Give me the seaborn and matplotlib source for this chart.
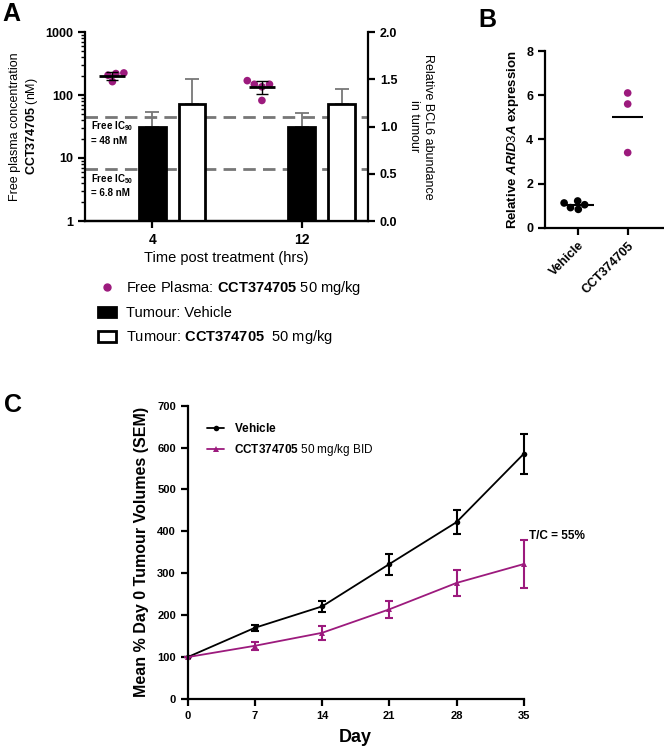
import matplotlib
matplotlib.use("Agg")
import matplotlib.pyplot as plt
import numpy as np
import pandas as pd
import seaborn as sns
from matplotlib.lines import Line2D
from matplotlib.patches import Patch

MAGENTA = "#9c1a7d"
GREY = "#777777"

# Panel A: free plasma concentration (nM) and BCL6 abundance in tumour
a_times = ["4", "12"]
a_groups = ["Free Plasma", "Tumour: Vehicle", "Tumour: CCT374705"]
plasma_4h = [224, 219, 206, 163]
plasma_12h = [169, 148, 148, 135, 82]
bcl6_vehicle = [1.0, 1.0]
bcl6_vehicle_sd = [0.15, 0.14]
bcl6_cct = [1.24, 1.24]
bcl6_cct_sd = [0.26, 0.16]
ic90 = 45
ic50 = 6.8

# Panel B: ARID3A expression
b_groups = ["Vehicle", "CCT374705"]
arid3a_vehicle = [1.12, 0.83, 1.21, 0.91, 1.04]
arid3a_cct = [6.1, 5.6, 3.4]

# Panel C: tumour volume growth
days = [0, 7, 14, 21, 28, 35]
vehicle_mean = [100, 170, 221, 322, 422, 585]
vehicle_sem = [0, 7, 14, 25, 28, 48]
cct_mean = [100, 127, 158, 214, 277, 322]
cct_sem = [0, 9, 16, 21, 31, 58]

sns.set_theme(style="ticks")
plt.rcParams["font.family"] = ["Liberation Sans", "DejaVu Sans"]
plt.rcParams.update({
    "mathtext.fontset": "custom",
    "mathtext.rm": "Liberation Sans",
    "mathtext.bf": "Liberation Sans:bold",
    "mathtext.it": "Liberation Sans:italic:bold",
    "axes.linewidth": 1.6,
    "axes.edgecolor": "black",
    "axes.labelcolor": "black",
    "text.color": "black",
    "xtick.color": "black",
    "ytick.color": "black",
    "xtick.major.width": 1.6,
    "ytick.major.width": 1.6,
    "xtick.major.size": 5,
    "ytick.major.size": 5,
    "ytick.minor.width": 1.0,
    "ytick.minor.size": 3,
})

fig = plt.figure(figsize=(6.64, 7.47), dpi=100)
W, H = 664, 747


def px_axes(left, top, right, bottom):
    return fig.add_axes([left / W, 1 - bottom / H, (right - left) / W, (bottom - top) / H])


def bold_ticks(ax, size):
    for lab in ax.get_xticklabels() + ax.get_yticklabels():
        lab.set_fontweight("bold")
        lab.set_fontsize(size)


# ---------------- Panel A ----------------
ax_a = px_axes(85, 32, 368, 221)
palette_a = {a_groups[0]: MAGENTA, a_groups[1]: "black", a_groups[2]: "white"}

plasma_df = pd.DataFrame({
    "time": ["4"] * len(plasma_4h) + ["12"] * len(plasma_12h),
    "value": plasma_4h + plasma_12h,
    "group": a_groups[0],
})
for level in [ic90, ic50]:
    ax_a.axhline(level, color=GREY, lw=2, ls=(0, (4.5, 2.6)), zorder=1)

sns.swarmplot(data=plasma_df, x="time", y="value", hue="group", order=a_times,
              hue_order=a_groups, palette=palette_a, dodge=True, size=5.5,
              log_scale=True, legend=False, ax=ax_a, zorder=3)

step = 0.8 / len(a_groups)
for i, vals in enumerate([plasma_4h, plasma_12h]):
    xc = i - step
    m, sd = np.mean(vals), np.std(vals, ddof=1)
    ax_a.errorbar(xc, m, yerr=sd, color="black", lw=1, capsize=4, capthick=1, zorder=4)
    ax_a.hlines(m, xc - 0.087, xc + 0.087, color="black", lw=2, zorder=5)

ax_a.set_ylim(1, 1000)
ax_a.set_yticks([1, 10, 100, 1000], ["1", "10", "100", "1000"])
ax_a.yaxis.set_minor_locator(matplotlib.ticker.LogLocator(subs=np.arange(2, 10)))
ax_a.yaxis.set_minor_formatter(matplotlib.ticker.NullFormatter())
ax_a.spines["top"].set_visible(False)
ax_a.spines["right"].set_visible(False)
ax_a.set_ylabel("Free plasma concentration\n$\\mathbf{CCT374705}$ (nM)", fontsize=9, labelpad=4)
ax_a.set_xlabel("Time post treatment (hrs)", fontsize=10.5, labelpad=3)

ax_a.text(0.02, 0.54, "Free IC$_{\\mathbf{90}}$\n= 48 nM", transform=ax_a.transAxes,
          fontsize=7, fontweight="bold", va="top", ha="left", linespacing=1.35)
ax_a.text(0.02, 0.26, "Free IC$_{\\mathbf{50}}$\n= 6.8 nM", transform=ax_a.transAxes,
          fontsize=7, fontweight="bold", va="top", ha="left", linespacing=1.35)

ax_a2 = ax_a.twinx()
bar_df = pd.DataFrame({
    "time": a_times * 2,
    "value": bcl6_vehicle + bcl6_cct,
    "group": [a_groups[1]] * 2 + [a_groups[2]] * 2,
})
sns.barplot(data=bar_df, x="time", y="value", hue="group", order=a_times,
            hue_order=a_groups, palette=palette_a, gap=0.33, errorbar=None,
            edgecolor="black", linewidth=2, legend=False, ax=ax_a2)
# the last two containers hold the vehicle and CCT374705 bars
for cont, sds in zip(ax_a2.containers[-2:], [bcl6_vehicle_sd, bcl6_cct_sd]):
    for bar, sd in zip(cont, sds):
        ax_a2.errorbar(bar.get_x() + bar.get_width() / 2, bar.get_height(),
                       yerr=[[0], [sd]], color=GREY, lw=1.3, capsize=5, capthick=1.3, zorder=0)
ax_a2.set_ylim(0, 2)
ax_a2.set_yticks([0, 0.5, 1.0, 1.5, 2.0], ["0.0", "0.5", "1.0", "1.5", "2.0"])
ax_a2.spines["top"].set_visible(False)
ax_a2.spines["left"].set_visible(False)
ax_a2.set_ylabel("Relative BCL6 abundance\nin tumour", fontsize=9, rotation=270,
                 va="bottom", labelpad=8)
ax_a2.set_xlabel("")
ax_a.set_xlim(-0.45, 1.443)
bold_ticks(ax_a, 9)
bold_ticks(ax_a2, 9)
for lab in ax_a.get_xticklabels():
    lab.set_fontsize(10)

handles_a = [
    Line2D([], [], marker="o", ls="none", color=MAGENTA, markersize=5),
    Patch(facecolor="black", edgecolor="black", linewidth=2),
    Patch(facecolor="white", edgecolor="black", linewidth=2),
]
labels_a = [
    "Free Plasma: $\\mathbf{CCT374705}$ 50 mg/kg",
    "Tumour: Vehicle",
    "Tumour: $\\mathbf{CCT374705}$  50 mg/kg",
]
fig.legend(handles_a, labels_a, loc="upper left", bbox_to_anchor=(98 / W, 1 - 279 / H),
           frameon=False, fontsize=10.5, handlelength=1.2, handletextpad=0.7,
           labelspacing=0.6, borderpad=0, borderaxespad=0)

# ---------------- Panel B ----------------
ax_b = px_axes(545, 51, 664, 227.7)
b_df = pd.DataFrame({
    "group": [b_groups[0]] * len(arid3a_vehicle) + [b_groups[1]] * len(arid3a_cct),
    "value": arid3a_vehicle + arid3a_cct,
})
sns.swarmplot(data=b_df, x="group", y="value", hue="group", order=b_groups,
              palette={b_groups[0]: "black", b_groups[1]: MAGENTA}, size=5.5,
              legend=False, ax=ax_b, zorder=3)
for i, vals in enumerate([arid3a_vehicle, arid3a_cct]):
    ax_b.hlines(np.mean(vals), i - 0.32, i + 0.32, color="black", lw=1.5, zorder=4)
ax_b.set_ylim(0, 8)
ax_b.set_yticks([0, 2, 4, 6, 8])
ax_b.set_xlim(-0.674, 1.735)
ax_b.spines["top"].set_visible(False)
ax_b.spines["right"].set_visible(False)
ax_b.set_xlabel("")
ax_b.set_ylabel("Relative $\\mathit{ARID3A}$ expression", fontsize=9.5, fontweight="bold", labelpad=4)
bold_ticks(ax_b, 9)
plt.setp(ax_b.get_xticklabels(), rotation=45, ha="right", rotation_mode="anchor")

# ---------------- Panel C ----------------
ax_c = px_axes(187.7, 405.7, 523.7, 699)
c_df = pd.DataFrame({
    "day": days * 2,
    "volume": vehicle_mean + cct_mean,
    "group": ["Vehicle"] * len(days) + ["CCT374705"] * len(days),
})
c_palette = {"Vehicle": "black", "CCT374705": MAGENTA}
sns.lineplot(data=c_df, x="day", y="volume", hue="group", style="group",
             palette=c_palette, markers={"Vehicle": "o", "CCT374705": "^"},
             dashes=False, markersize=4, linewidth=1.3, markeredgewidth=0,
             ax=ax_c, clip_on=False)
for name, means, sems in [("Vehicle", vehicle_mean, vehicle_sem), ("CCT374705", cct_mean, cct_sem)]:
    ax_c.errorbar(days, means, yerr=sems, fmt="none", ecolor=c_palette[name],
                  elinewidth=1.5, capsize=3, capthick=1.5, clip_on=False)
ax_c.set_xlim(0, 35)
ax_c.set_ylim(0, 700)
ax_c.set_xticks(days)
ax_c.set_yticks(range(0, 701, 100))
ax_c.spines["top"].set_visible(False)
ax_c.spines["right"].set_visible(False)
ax_c.set_xlabel("Day", fontsize=13, fontweight="bold", labelpad=6)
ax_c.set_ylabel("Mean % Day 0 Tumour Volumes (SEM)", fontsize=11.5, fontweight="bold", labelpad=6)
bold_ticks(ax_c, 8)
handles_c, _ = ax_c.get_legend_handles_labels()
ax_c.legend(handles_c, ["$\\mathbf{Vehicle}$", "$\\mathbf{CCT374705}$ 50 mg/kg BID"],
            loc="upper left", bbox_to_anchor=(0.025, 0.98), frameon=False,
            fontsize=8.5, handlelength=1.5, labelspacing=0.55)
ax_c.text(35.6, 390, "T/C = 55%", fontsize=8.5, fontweight="bold", ha="left", va="center")

# panel letters
fig.text(2 / W, 1 - 2 / H, "A", fontsize=18, fontweight="bold", va="top")
fig.text(478 / W, 1 - 8 / H, "B", fontsize=18, fontweight="bold", va="top")
fig.text(4 / W, 1 - 393 / H, "C", fontsize=18, fontweight="bold", va="top")

fig.savefig("out.png", dpi=100)
